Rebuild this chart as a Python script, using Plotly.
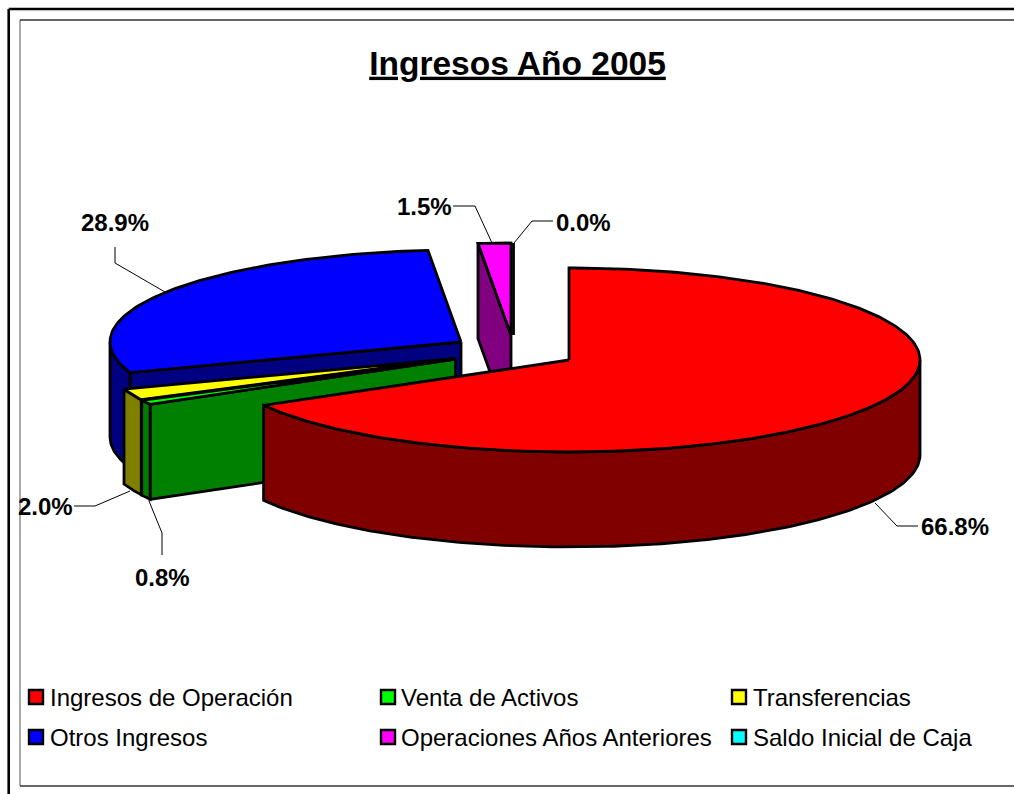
import numpy as np
import plotly.graph_objects as go

# ---- data ----
categories = ["Ingresos de Operación", "Venta de Activos", "Transferencias",
              "Otros Ingresos", "Operaciones Años Anteriores", "Saldo Inicial de Caja"]
values = [66.8, 0.8, 2.0, 28.9, 1.5, 0.0]

# ---- styling / layout ----
top_colors = ["#FF0000", "#00FF00", "#FFFF00", "#0000FF", "#FF00FF", "#00FFFF"]
side_colors = ["#800000", "#008000", "#808000", "#000080", "#800080", "#008080"]
apexes = [(569, 360), (455.5, 359), (455, 358.5), (461, 342), (511, 335), (513.5, 335)]
draw_order = [4, 5, 3, 2, 1, 0]
RX, RY, DEPTH = 351, 92, 95
LW = 2.8


def rim(apex, a0, a1):
    n = max(2, int(abs(a1 - a0)) + 2)
    t = np.radians(np.linspace(a0, a1, n))
    return apex[0] + RX * np.sin(t), apex[1] - RY * np.cos(t)


def poly(fig, xs, ys, color, name):
    xs, ys = list(xs), list(ys)
    fig.add_trace(go.Scatter(x=xs + xs[:1], y=ys + ys[:1], mode="lines", fill="toself",
                             fillcolor=color, line=dict(color="black", width=LW),
                             name=name, hoverinfo="name", showlegend=False))


fig = go.Figure()
bounds = np.concatenate([[0], np.cumsum(values)]) / sum(values) * 360
for i in draw_order:
    a0, a1 = bounds[i], bounds[i + 1]
    ap = apexes[i]
    name = categories[i]
    # cut faces facing the viewer
    if np.sin(np.radians(a0)) < -1e-6:
        x, y = rim(ap, a0, a0)
        poly(fig, [ap[0], x[0], x[0], ap[0]],
             [ap[1], y[0], y[0] + DEPTH, ap[1] + DEPTH], side_colors[i], name)
    if np.sin(np.radians(a1)) > 1e-6:
        x, y = rim(ap, a1, a1)
        poly(fig, [ap[0], x[0], x[0], ap[0]],
             [ap[1], y[0], y[0] + DEPTH, ap[1] + DEPTH], side_colors[i], name)
    # outer wall (front half of the rim only)
    w0, w1 = max(a0, 90), min(a1, 270)
    if w1 > w0:
        x, y = rim(ap, w0, w1)
        poly(fig, np.r_[x, x[::-1]], np.r_[y, y[::-1] + DEPTH], side_colors[i], name)
    # top face
    x, y = rim(ap, a0, a1)
    poly(fig, np.r_[ap[0], x], np.r_[ap[1], y], top_colors[i], name)

# leader lines and value labels, in the order of `values`
leaders = [
    ([918, 897, 875], [526, 526, 503]),
    ([162, 162, 149], [555, 533, 501]),
    ([74, 95, 130], [506, 506, 491]),
    ([115, 115, 165], [247, 263, 292]),
    ([453, 475, 492], [206, 206, 243]),
    ([553, 532, 514], [221, 221, 243]),
]
label_pos = [(955, 526), (162, 577), (45, 506), (115, 222), (424, 206), (583, 222)]
annotations = []
for i, v in enumerate(values):
    fig.add_trace(go.Scatter(x=leaders[i][0], y=leaders[i][1], mode="lines",
                             line=dict(color="black", width=1), hoverinfo="skip",
                             showlegend=False))
    annotations.append(dict(x=label_pos[i][0], y=label_pos[i][1], text=f"<b>{v:.1f}%</b>",
                            showarrow=False, xanchor="center", yanchor="middle",
                            font=dict(family="Liberation Sans", size=24, color="black")))

# legend block
leg_x = [36, 388, 739]
leg_y = [697, 737]
text_x = [50, 401, 753]
lx, ly = [], []
for i, c in enumerate(categories):
    r, col = divmod(i, 3)
    lx.append(leg_x[col])
    ly.append(leg_y[r])
    annotations.append(dict(x=text_x[col], y=leg_y[r], text=c, showarrow=False,
                            xanchor="left", yanchor="middle", borderpad=0, borderwidth=0,
                            font=dict(family="Liberation Sans", size=24, color="black")))
fig.add_trace(go.Scatter(x=lx, y=ly, mode="markers", hoverinfo="skip", showlegend=False,
                         marker=dict(symbol="square", size=14, color=top_colors,
                                     line=dict(color="black", width=2.4))))

frame = [
    dict(x0=8.7, x1=8.7, y0=9, y1=794, color="black", width=2.6),
    dict(x0=8.7, x1=1014, y0=9, y1=9, color="black", width=2.6),
    dict(x0=20, x1=20, y0=20, y1=786, color="#707070", width=1.2),
    dict(x0=20, x1=1014, y0=20, y1=20, color="#333333", width=1.6),
    dict(x0=20, x1=1014, y0=786, y1=786, color="#333333", width=1.6),
]
shapes = [dict(type="line", xref="x", yref="y", x0=f["x0"], x1=f["x1"], y0=f["y0"], y1=f["y1"],
               line=dict(color=f["color"], width=f["width"])) for f in frame]

fig.update_layout(
    width=1014, height=794, margin=dict(l=0, r=0, t=0, b=0),
    paper_bgcolor="white", plot_bgcolor="white", showlegend=False,
    title=dict(text="<b><u>Ingresos Año 2005</u></b>", x=517.5 / 1014, xanchor="center",
               y=1 - 63 / 794, yanchor="middle",
               font=dict(family="Liberation Sans", size=33.5, color="black")),
    xaxis=dict(range=[0, 1014], visible=False, fixedrange=True),
    yaxis=dict(range=[794, 0], visible=False, fixedrange=True),
    annotations=annotations, shapes=shapes,
)
fig.write_html("out.html", config=dict(displayModeBar=False),
               post_script="document.body.style.margin='0';")
